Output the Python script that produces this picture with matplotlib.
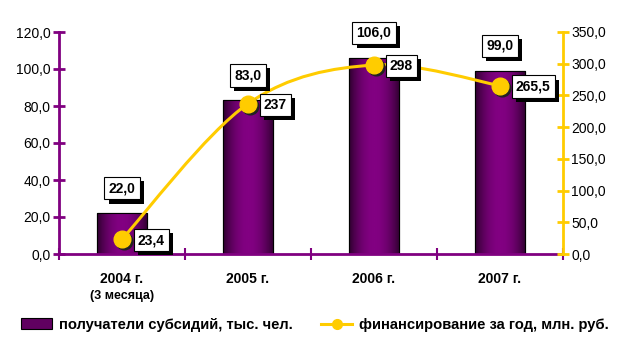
import numpy as np
import matplotlib
matplotlib.use("Agg")
from matplotlib import pyplot as plt
from matplotlib.path import Path
from matplotlib.patches import PathPatch, Patch
from matplotlib.lines import Line2D
from matplotlib.colors import LinearSegmentedColormap
import matplotlib.transforms as mtransforms
import matplotlib.patheffects as pe

plt.rcParams['font.family'] = ['Liberation Sans', 'DejaVu Sans']

# data
years = ['2004 г.', '2005 г.', '2006 г.', '2007 г.']
sub_years = ['(3 месяца)', '', '', '']
recipients = [22.0, 83.0, 106.0, 99.0]          # тыс. чел.
funding = [23.4, 237, 298, 265.5]                # млн. руб.
recip_labels = ['22,0', '83,0', '106,0', '99,0']
fund_labels = ['23,4', '237', '298', '265,5']

PURPLE = '#800080'
YELLOW = '#FFCC00'

fig = plt.figure(figsize=(6.24, 3.51), dpi=100)
ax = fig.add_axes([59/624, 1-254/351, (563-59)/624, (254-32)/351])
ax2 = ax.twinx()

x = np.arange(len(years))
bars = ax.bar(x, recipients, width=0.4, color=PURPLE, edgecolor='black', linewidth=0.8, zorder=2)

# horizontal gradient inside the bars
cmap = LinearSegmentedColormap.from_list('pg', ['#300030', '#820082'])
g = np.linspace(0, 1, 64)
prof = 1 - np.abs((g - 0.5) / 0.5) ** 2
for b in bars:
    bx, by = b.get_x(), b.get_y()
    im = ax.imshow(prof[np.newaxis, :], cmap=cmap, aspect='auto', vmin=0, vmax=1,
                   extent=(bx, bx + b.get_width(), by, by + b.get_height()), zorder=2.1)
    im.set_clip_path(b)
    ax.add_patch(plt.Rectangle((bx, by), b.get_width(), b.get_height(), fill=False,
                               edgecolor='black', linewidth=0.8, zorder=2.2))

ax.set_xlim(-0.5, 3.5)
ax.set_ylim(0, 120)
ax.set_yticks(np.arange(0, 121, 20))
ax.set_yticklabels([('%.1f' % v).replace('.', ',') for v in np.arange(0, 121, 20)])
ax2.set_ylim(0, 350)
ax2.set_yticks(np.arange(0, 351, 50))
ax2.set_yticklabels([('%.1f' % v).replace('.', ',') for v in np.arange(0, 351, 50)])

for a in (ax, ax2):
    for s in a.spines.values():
        s.set_visible(False)
ax.spines['left'].set_visible(True)
ax.spines['left'].set_color(PURPLE)
ax.spines['left'].set_linewidth(2)
ax.spines['bottom'].set_visible(True)
ax.spines['bottom'].set_color(PURPLE)
ax.spines['bottom'].set_linewidth(2)
ax2.spines['right'].set_visible(True)
ax2.spines['right'].set_color(YELLOW)
ax2.spines['right'].set_linewidth(2)

ax.tick_params(axis='y', direction='inout', length=8, width=2, color=PURPLE, labelsize=10, pad=2)
ax2.tick_params(axis='y', direction='inout', length=8, width=2, color=YELLOW, labelsize=10, pad=2)
ax.set_xticks(x)
ax.set_xticklabels([])
ax.set_xticks(np.arange(-0.5, 3.6, 1), minor=True)
ax.tick_params(axis='x', which='major', length=0)
ax.tick_params(axis='x', which='minor', direction='inout', length=8, width=1.5, color=PURPLE)

for i in range(len(years)):
    ax.annotate(years[i], (x[i], 0), xytext=(0, -25), textcoords='offset pixels',
                ha='center', va='center', fontsize=10, fontweight='bold')
    if sub_years[i]:
        ax.annotate(sub_years[i], (x[i], 0), xytext=(0, -42), textcoords='offset pixels',
                    ha='center', va='center', fontsize=9, fontweight='bold')

# smoothed line (Catmull-Rom style bezier through data points)
px = np.array(x, dtype=float)
py = np.array(funding, dtype=float)
verts = [(px[0], py[0])]
codes = [Path.MOVETO]
n = len(px)
for i in range(n - 1):
    i0 = max(i - 1, 0)
    i3 = min(i + 2, n - 1)
    c1 = (px[i] + (px[i+1] - px[i0]) / 6, py[i] + (py[i+1] - py[i0]) / 6)
    c2 = (px[i+1] - (px[i3] - px[i]) / 6, py[i+1] - (py[i3] - py[i]) / 6)
    verts += [c1, c2, (px[i+1], py[i+1])]
    codes += [Path.CURVE4] * 3
ax2.add_patch(PathPatch(Path(verts, codes), facecolor='none', edgecolor=YELLOW, linewidth=2.2, zorder=3))

shadow = mtransforms.offset_copy(ax2.transData, fig=fig, x=2, y=-2, units='dots')
ax2.plot(px, py, 'o', color='#222222', markersize=12, transform=shadow, zorder=3.5)
ax2.plot(px, py, 'o', color=YELLOW, markersize=12, zorder=4)

box = dict(boxstyle='square,pad=0.3', facecolor='white', edgecolor='black', linewidth=0.8)

def label(axis, xy, txt, off, ha):
    t = axis.annotate(txt, xy, xytext=off, textcoords='offset pixels',
                      ha=ha, va='center', fontsize=10, fontweight='bold', color='black',
                      bbox=box, zorder=6)
    t.get_bbox_patch().set_path_effects(
        [pe.SimplePatchShadow(offset=(3, -3), shadow_rgbFace='black', alpha=1), pe.Normal()])

for i in range(n):
    label(ax2, (px[i], recipients[i] * 350 / 120), recip_labels[i], (0, 25), 'center')
    label(ax2, (px[i], py[i]), fund_labels[i], (16, -1), 'left')

handles = [Patch(facecolor='#600060', edgecolor='black', linewidth=0.8),
           Line2D([0], [0], color=YELLOW, linewidth=2.2, marker='o', markersize=7)]
fig.legend(handles, ['получатели субсидий, тыс. чел.', 'финансирование за год, млн. руб.'],
           loc='center', bbox_to_anchor=(0.505, 1 - 325/351), ncol=2, frameon=False,
           prop={'size': 10.6, 'weight': 'bold'}, handlelength=2.1, handleheight=0.75,
           columnspacing=1.9, handletextpad=0.5)

fig.savefig('out.png', dpi=100, facecolor='white')
